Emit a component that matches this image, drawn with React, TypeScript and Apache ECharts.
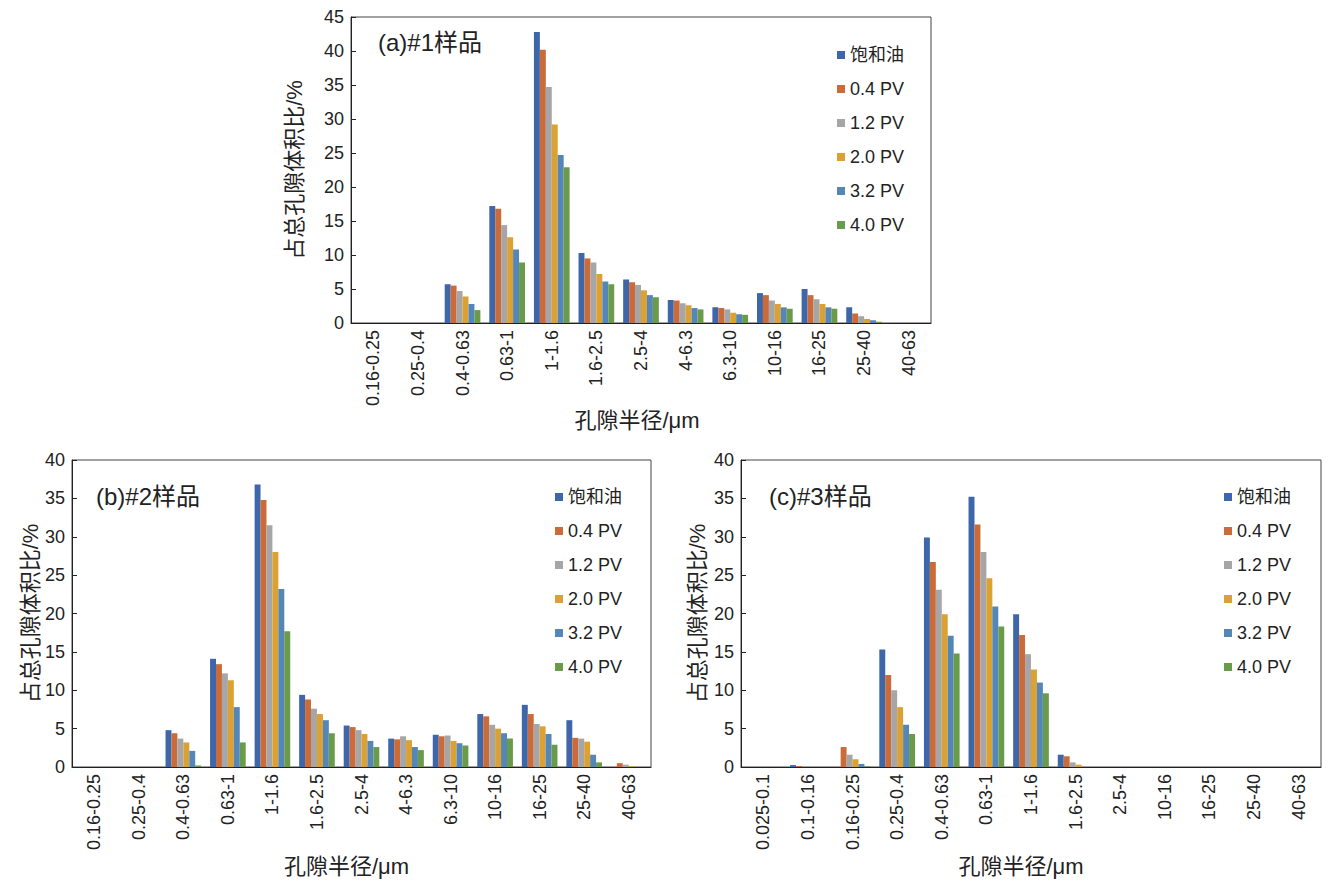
import React, { useEffect, useRef } from "react";
import * as echarts from "echarts";

// Categories (pore radius ranges, μm)
const catsAB = ["0.16-0.25", "0.25-0.4", "0.4-0.63", "0.63-1", "1-1.6", "1.6-2.5", "2.5-4", "4-6.3", "6.3-10", "10-16", "16-25", "25-40", "40-63"];
const catsC = ["0.025-0.1", "0.1-0.16", "0.16-0.25", "0.25-0.4", "0.4-0.63", "0.63-1", "1-1.6", "1.6-2.5", "2.5-4", "10-16", "16-25", "25-40", "40-63"];

const seriesNames = ["饱和油", "0.4 PV", "1.2 PV", "2.0 PV", "3.2 PV", "4.0 PV"];
const colors = ["#3d67a8", "#cb6b3a", "#a6a6a8", "#dba133", "#5487b8", "#6a9b4b"];

// (a) #1 sample
const a_sat = [0, 0, 5.7, 17.2, 42.8, 10.3, 6.4, 3.4, 2.3, 4.4, 5.0, 2.3, 0];
const a_04 = [0, 0, 5.5, 16.8, 40.2, 9.5, 6.0, 3.3, 2.2, 4.1, 4.1, 1.4, 0];
const a_12 = [0, 0, 4.7, 14.4, 34.7, 8.9, 5.6, 2.9, 2.0, 3.3, 3.5, 1.0, 0];
const a_20 = [0, 0, 3.9, 12.6, 29.2, 7.2, 4.8, 2.6, 1.5, 2.8, 2.8, 0.6, 0];
const a_32 = [0, 0, 2.8, 10.8, 24.7, 6.1, 4.1, 2.2, 1.3, 2.3, 2.3, 0.4, 0];
const a_40 = [0, 0, 1.9, 8.9, 22.9, 5.7, 3.8, 2.0, 1.2, 2.1, 2.1, 0.2, 0];

// (b) #2 sample
const b_sat = [0, 0, 4.8, 14.1, 36.8, 9.4, 5.4, 3.7, 4.2, 6.9, 8.1, 6.1, 0];
const b_04 = [0, 0, 4.4, 13.4, 34.8, 8.8, 5.2, 3.6, 4.0, 6.6, 6.9, 3.8, 0.5];
const b_12 = [0, 0, 3.7, 12.2, 31.5, 7.6, 4.8, 4.0, 4.1, 5.5, 5.6, 3.7, 0.3];
const b_20 = [0, 0, 3.2, 11.3, 28.0, 6.9, 4.3, 3.5, 3.4, 5.0, 5.3, 3.3, 0.1];
const b_32 = [0, 0, 2.1, 7.8, 23.2, 6.1, 3.4, 2.6, 3.1, 4.4, 4.3, 1.6, 0];
const b_40 = [0, 0, 0.2, 3.2, 17.7, 4.4, 2.6, 2.2, 2.8, 3.7, 2.9, 0.6, 0];

// (c) #3 sample
const c_sat = [0, 0.25, 0, 15.3, 29.9, 35.2, 19.9, 1.6, 0, 0, 0, 0, 0];
const c_04 = [0, 0.12, 2.6, 12.0, 26.7, 31.6, 17.2, 1.4, 0, 0, 0, 0, 0];
const c_12 = [0, 0, 1.6, 10.0, 23.1, 28.0, 14.7, 0.6, 0, 0, 0, 0, 0];
const c_20 = [0, 0, 1.0, 7.8, 19.9, 24.6, 12.7, 0.3, 0, 0, 0, 0, 0];
const c_32 = [0, 0, 0.4, 5.5, 17.1, 20.9, 11.0, 0, 0, 0, 0, 0, 0];
const c_40 = [0, 0, 0.1, 4.3, 14.8, 18.3, 9.6, 0, 0, 0, 0, 0, 0];

const titles = ["(a)#1样品", "(b)#2样品", "(c)#3样品"];
const yMaxes = [45, 40, 40];
const xName = "孔隙半径/μm";
const yName = "占总孔隙体积比/%";

const FONT = "'Liberation Sans', Arial, 'Noto Sans CJK SC', sans-serif";

export default function App() {
  const ref = useRef<HTMLDivElement>(null);
  useEffect(() => {
    if (!ref.current) return;
    const chart = echarts.init(ref.current, undefined, { renderer: "svg" });
    const data = [
      [a_sat, a_04, a_12, a_20, a_32, a_40],
      [b_sat, b_04, b_12, b_20, b_32, b_40],
      [c_sat, c_04, c_12, c_20, c_32, c_40],
    ];
    const cats = [catsAB, catsAB, catsC];
    const grids = [
      { left: 351, top: 17, width: 580, height: 306 },
      { left: 72, top: 460, width: 579, height: 307 },
      { left: 741, top: 460, width: 580, height: 307 },
    ];
    const xNameGap = [79, 88, 88];
    const xNamePad = [[0, 8, 0, 0], [0, 30, 0, 0], [0, 20, 0, 0]];
    const yNameGap = [46, 22, 33];
    const titlePos = [
      { left: 378, top: 30 },
      { left: 96, top: 484 },
      { left: 769, top: 484 },
    ];
    const legendPos = [
      { left: 837, top: 45 },
      { left: 555, top: 487 },
      { left: 1224, top: 487 },
    ];
    const axisColor = "#222";
    const option: any = {
      animation: false,
      textStyle: { fontFamily: FONT },
      title: titles.map((t, i) => ({
        text: t,
        left: titlePos[i].left,
        top: titlePos[i].top,
        padding: 0,
        textStyle: { fontSize: 24, fontWeight: "normal", color: "#222", fontFamily: FONT },
      })),
      legend: legendPos.map((p) => ({
        orient: "vertical",
        left: p.left,
        top: p.top,
        padding: 0,
        icon: "rect",
        itemWidth: 8,
        itemHeight: 8,
        itemGap: 14,
        data: seriesNames,
        textStyle: { fontSize: 18, color: "#222", lineHeight: 20, fontFamily: FONT },
      })),
      grid: grids.map((g) => ({
        ...g,
        show: true,
        borderColor: "#444",
        borderWidth: 1,
        backgroundColor: "transparent",
      })),
      xAxis: cats.map((c, i) => ({
        type: "category",
        gridIndex: i,
        data: c,
        name: xName,
        nameLocation: "middle",
        nameGap: xNameGap[i],
        nameTextStyle: { fontSize: 22, color: "#222", fontFamily: FONT, padding: xNamePad[i] },
        axisLine: { lineStyle: { color: axisColor, width: 1 } },
        axisTick: { inside: true, length: 4, lineStyle: { color: axisColor } },
        axisLabel: { rotate: 90, interval: 0, fontSize: 18, margin: 7, color: "#222", fontFamily: FONT },
        splitLine: { show: false },
      })),
      yAxis: yMaxes.map((m, i) => ({
        type: "value",
        gridIndex: i,
        min: 0,
        max: m,
        interval: 5,
        name: yName,
        nameLocation: "middle",
        nameGap: yNameGap[i],
        nameRotate: 90,
        nameTextStyle: { fontSize: 22, color: "#222", fontFamily: FONT },
        axisLine: { show: true, lineStyle: { color: axisColor, width: 1 } },
        axisTick: { show: true, inside: true, length: 5, lineStyle: { color: axisColor } },
        axisLabel: { fontSize: 18, margin: 7, color: "#222", fontFamily: FONT },
        splitLine: { show: false },
      })),
      series: [] as any[],
    };
    data.forEach((group, gi) => {
      group.forEach((vals, si) => {
        option.series.push({
          type: "bar",
          name: seriesNames[si],
          xAxisIndex: gi,
          yAxisIndex: gi,
          data: vals,
          barGap: "0%",
          barCategoryGap: "20%",
          itemStyle: { color: colors[si], borderWidth: 0 },
        });
      });
    });
    chart.setOption(option);
    return () => chart.dispose();
  }, []);
  return (
    <div
      ref={ref}
      style={{ position: "absolute", left: 0, top: 0, width: 1329, height: 885, background: "#fff" }}
    />
  );
}
